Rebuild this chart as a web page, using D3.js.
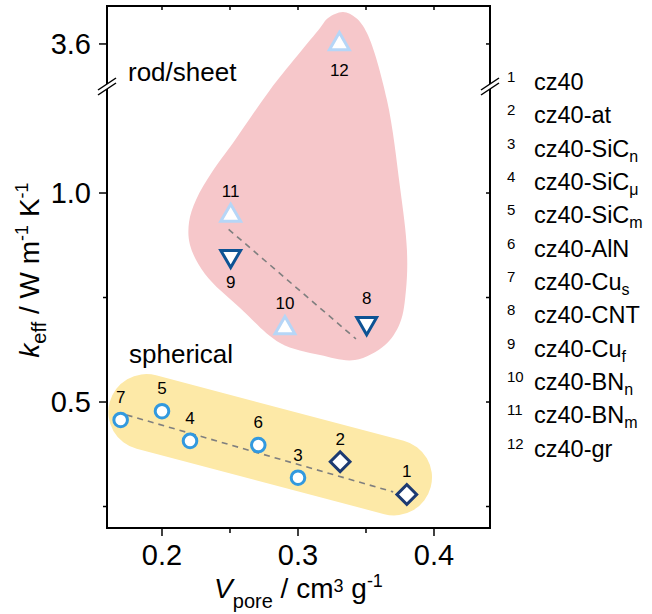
<!DOCTYPE html>
<html><head><meta charset="utf-8">
<script src="https://cdn.jsdelivr.net/npm/d3@7"></script>
<style>
html,body{margin:0;padding:0;background:#fff;}
svg text{font-family:"Liberation Sans",Arial,Helvetica,sans-serif;fill:#000;}
</style></head>
<body>
<svg id="chart" width="652" height="614"></svg>
<script>
// ---------------- data ----------------
const ids       = [1,2,3,4,5,6,7,8,9,10,11,12];
const vpore     = [0.38,0.331,0.30,0.2206,0.20,0.2708,0.1696,0.3505,0.2505,0.2904,0.2505,0.3304];
const keff      = [0.279,0.357,0.319,0.407,0.478,0.397,0.457,0.6885,0.849,0.677,0.946,3.60];
const shapes    = ["diamond","diamond","circle","circle","circle","circle","circle","triDown","triDown","triUp","triUp","triUp"];
const labelSide = ["above","above","above","above","above","above","above","above","below","above","above","below"];

const legendNames = ["cz40","cz40-at","cz40-SiC","cz40-SiC","cz40-SiC","cz40-AlN","cz40-Cu","cz40-CNT","cz40-Cu","cz40-BN","cz40-BN","cz40-gr"];
const legendSubs  = ["","","n","\u03bc","m","","s","","f","n","m",""];

const xTicksMajor = [0.2,0.3,0.4];
const xTicksMinor = [0.25,0.35];
const yLowMajor   = [0.5,1.0];
const yLowMinor   = [0.25,0.75];
const yHighMajor  = [3.6];

// dashed trend lines (Vpore, keff)
const fitSpherical = [[0.174,0.469],[0.370,0.285]];
const fitRod       = [[0.249,0.913],[0.3426,0.651]];
// highlighted regions (lower-axis units)
const sphericalBand = [[0.1885,0.476],[0.3706,0.3196]];
const rodBlob = [[0.3331,1.4330],[0.3427,1.4187],[0.3507,1.3828],[0.3654,1.2225],[0.3750,1.0144],[0.3801,0.8636],
  [0.3794,0.7679],[0.3750,0.6890],[0.3640,0.6364],[0.3419,0.6005],[0.3162,0.6124],[0.2868,0.6411],
  [0.2574,0.7249],[0.2316,0.8062],[0.2206,0.8756],[0.2199,0.9306],[0.2250,0.9833],[0.2368,1.0502],
  [0.2522,1.1196],[0.2794,1.2464],[0.3162,1.3947],[0.3221,1.4187]];

// ---------------- layout ----------------
const L=107, R=490, T=6, B=528, BRK=85;
const svg = d3.select("#chart");
const x = d3.scaleLinear().domain([0.15956,0.44118]).range([L,R]);
const yLow = d3.scaleLinear().domain([0.1986,1.2584]).range([B,BRK]);
const yHigh = d3.scaleLinear().domain([3.4,3.785]).range([BRK,T]);
const yPos = v => v > 2 ? yHigh(v) : yLow(v);

const colors = {diamond:"#1c3a72", circle:"#3299df", triDown:"#0d5394", triUp:"#b6d6f7"};

// regions
svg.append("path")
  .attr("d", d3.line().x(d=>x(d[0])).y(d=>yLow(d[1])).curve(d3.curveCatmullRomClosed.alpha(0.5))(rodBlob))
  .attr("fill","#f6c7ca");
svg.append("path")
  .attr("d", d3.line().x(d=>x(d[0])).y(d=>yLow(d[1]))(sphericalBand))
  .attr("stroke","#fde9a7").attr("stroke-width",76).attr("stroke-linecap","round").attr("fill","none");

// fit lines
[fitSpherical, fitRod].forEach(f=>{
  svg.append("path")
    .attr("d", d3.line().x(d=>x(d[0])).y(d=>yLow(d[1]))(f))
    .attr("stroke","#7f7f7f").attr("stroke-width",1.6).attr("stroke-dasharray","6,5").attr("fill","none");
});

// frame
svg.append("rect").attr("x",L).attr("y",T).attr("width",R-L).attr("height",B-T)
  .attr("fill","none").attr("stroke","#000").attr("stroke-width",2);

// x ticks
const tickG = svg.append("g").attr("stroke","#000").attr("stroke-width",1.5);
xTicksMajor.forEach(v=>{
  tickG.append("line").attr("x1",x(v)).attr("x2",x(v)).attr("y1",B).attr("y2",B+8);
  tickG.append("line").attr("x1",x(v)).attr("x2",x(v)).attr("y1",T).attr("y2",T+4);
});
xTicksMinor.forEach(v=>{
  tickG.append("line").attr("x1",x(v)).attr("x2",x(v)).attr("y1",B).attr("y2",B+5);
  tickG.append("line").attr("x1",x(v)).attr("x2",x(v)).attr("y1",T).attr("y2",T+4);
});
svg.selectAll(".xtl").data(xTicksMajor).enter().append("text")
  .attr("x",d=>x(d)).attr("y",565).attr("text-anchor","middle").attr("font-size",29)
  .text(d3.format(".1f"));

// y ticks
const yMajors = yLowMajor.map(v=>yLow(v)).concat(yHighMajor.map(v=>yHigh(v)));
yMajors.forEach(py=>{
  tickG.append("line").attr("x1",L-8).attr("x2",L).attr("y1",py).attr("y2",py);
  tickG.append("line").attr("x1",R-4).attr("x2",R).attr("y1",py).attr("y2",py);
});
yLowMinor.forEach(v=>{
  tickG.append("line").attr("x1",L-4).attr("x2",L).attr("y1",yLow(v)).attr("y2",yLow(v));
  tickG.append("line").attr("x1",R-4).attr("x2",R).attr("y1",yLow(v)).attr("y2",yLow(v));
});
svg.selectAll(".ytl").data(yLowMajor.map(v=>[v,yLow(v)]).concat(yHighMajor.map(v=>[v,yHigh(v)]))).enter().append("text")
  .attr("x",91).attr("y",d=>d[1]).attr("dy","0.36em").attr("text-anchor","end").attr("font-size",29)
  .text(d=>d3.format(".1f")(d[0]));

// axis breaks
[L,R].forEach(ax=>{
  svg.append("path").attr("d",`M${ax-9},${BRK+5} L${ax+9},${BRK-7} L${ax+9},${BRK-2} L${ax-9},${BRK+10} Z`)
    .attr("fill","#fff").attr("stroke","none");
  svg.append("line").attr("x1",ax-9).attr("y1",BRK+5).attr("x2",ax+9).attr("y2",BRK-7).attr("stroke","#000").attr("stroke-width",1.5);
  svg.append("line").attr("x1",ax-9).attr("y1",BRK+10).attr("x2",ax+9).attr("y2",BRK-2).attr("stroke","#000").attr("stroke-width",1.5);
});

// markers
const symPath = {
  circle: d3.symbol().type(d3.symbolCircle).size(145)(),
  diamond: d3.symbol().type(d3.symbolSquare).size(195)(),
  triUp: d3.symbol().type(d3.symbolTriangle).size(170)(),
  triDown: d3.symbol().type(d3.symbolTriangle).size(170)()
};
const rot = {circle:0, diamond:45, triUp:0, triDown:180};
ids.forEach((id,i)=>{
  const px=x(vpore[i]), py=yPos(keff[i]), s=shapes[i];
  svg.append("path").attr("d",symPath[s])
    .attr("transform",`translate(${px},${py}) rotate(${rot[s]})`)
    .attr("fill","#fff").attr("stroke",colors[s]).attr("stroke-width",3);
  const isTri = s.startsWith("tri");
  const dy = labelSide[i]==="above" ? (isTri?-19:-17) : 32;
  svg.append("text").attr("x",px).attr("y",py+dy).attr("text-anchor","middle").attr("font-size",17).text(id);
});

// region labels
svg.append("text").attr("x",128).attr("y",81).attr("font-size",26).text("rod/sheet");
svg.append("text").attr("x",129).attr("y",363).attr("font-size",26).text("spherical");

// axis titles
const xt = svg.append("text").attr("x",(L+R)/2).attr("y",598).attr("text-anchor","middle").attr("font-size",28);
xt.append("tspan").attr("font-style","italic").text("V");
xt.append("tspan").attr("font-size",20).attr("dy",10).text("pore");
xt.append("tspan").attr("dy",-10).text(" / cm");
xt.append("tspan").attr("font-size",18).attr("dy",-6).text("3");
xt.append("tspan").attr("dy",6).text(" g");
xt.append("tspan").attr("font-size",18).attr("dy",-11).text("-1");

const yt = svg.append("text").attr("transform","translate(39,270) rotate(-90)").attr("text-anchor","middle").attr("font-size",28);
yt.append("tspan").attr("font-style","italic").text("k");
yt.append("tspan").attr("font-size",20).attr("dy",7).text("eff");
yt.append("tspan").attr("dy",-7).text(" / W m");
yt.append("tspan").attr("font-size",18).attr("dy",-11).text("-1");
yt.append("tspan").attr("dy",11).text(" K");
yt.append("tspan").attr("font-size",18).attr("dy",-11).text("-1");

// legend
ids.forEach((id,i)=>{
  const by = 90 + i*33.33;
  svg.append("text").attr("x",507).attr("y",by-8).attr("font-size",15).text(id);
  const t = svg.append("text").attr("x",534).attr("y",by).attr("font-size",23.5);
  t.append("tspan").text(legendNames[i]);
  if (legendSubs[i]) t.append("tspan").attr("font-size",16).attr("dy",5).text(legendSubs[i]);
});
</script>
</body></html>
